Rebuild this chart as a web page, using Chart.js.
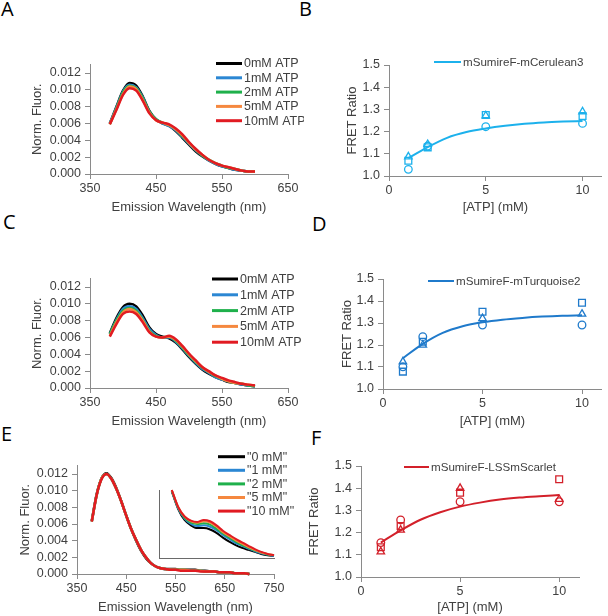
<!DOCTYPE html>
<html>
<head>
<meta charset="utf-8">
<script src="https://cdn.jsdelivr.net/npm/chart.js@4.4.1/dist/chart.umd.min.js"></script>
<style>
  body { margin: 0; background: #fff; width: 608px; height: 616px; position: relative; overflow: hidden; }
  canvas { position: absolute; }
  .tag { position: absolute; font-family: 'Open Sans', sans-serif; font-size: 20px; line-height: 1; color: #000; }
</style>
</head>
<body>
<div class="tag" style="left:1px;top:-1px">A</div>
<div class="tag" style="left:299px;top:-1px">B</div>
<div class="tag" style="left:3px;top:212px">C</div>
<div class="tag" style="left:312px;top:214px">D</div>
<div class="tag" style="left:1px;top:424px">E</div>
<div class="tag" style="left:311px;top:428px">F</div>
<script>
// wavelengths (nm)
const specX = [380,390,400,410,420,430,440,450,460,470,480,490,500,510,520,530,540,550,560,570,580,590,600];
const eX = [380,390,400,410,420,430,440,450,460,470,480,490,500,510,520,530,540,550,560,570,580,590,600,610,620,630,640,650,660,670,680,690,700];
const insetX = [540,550,560,570,580,590,600,610,620,630,640,650,660,670,680,690,700];

const atpLabels = ['0mM ATP', '1mM ATP', '2mM ATP', '5mM ATP', '10mM ATP'];
const mmLabels = ['"0 mM"', '"1 mM"', '"2 mM"', '"5 mM"', '"10 mM"'];
const specColors = ['#000000', '#2b87d3', '#1fb04b', '#f5883f', '#e11b22'];

// panel A - mSumireF-mCerulean3 spectra
const aBlack  = [0.0060,0.0080,0.0099,0.0108,0.0105,0.0092,0.0075,0.0065,0.0060,0.0057,0.0051,0.0043,0.0035,0.0027,0.0021,0.0016,0.0012,0.0009,0.0007,0.0005,0.0004,0.0003,0.0003];
const aBlue   = [0.0060,0.0079,0.0098,0.0106,0.0103,0.0091,0.0074,0.0065,0.0060,0.0057,0.0052,0.0044,0.0036,0.0028,0.0022,0.0016,0.0012,0.0009,0.0007,0.0005,0.0004,0.0003,0.0003];
const aGreen  = [0.0059,0.0078,0.0097,0.0105,0.0102,0.0090,0.0074,0.0065,0.0061,0.0058,0.0053,0.0045,0.0037,0.0029,0.0022,0.0017,0.0013,0.0010,0.0007,0.0006,0.0004,0.0003,0.0003];
const aOrange = [0.0059,0.0077,0.0095,0.0104,0.0101,0.0088,0.0073,0.0064,0.0061,0.0058,0.0053,0.0046,0.0037,0.0029,0.0023,0.0017,0.0013,0.0010,0.0008,0.0006,0.0004,0.0003,0.0003];
const aRed    = [0.0059,0.0076,0.0094,0.0102,0.0099,0.0087,0.0072,0.0064,0.0061,0.0059,0.0054,0.0047,0.0038,0.0030,0.0023,0.0017,0.0013,0.0010,0.0008,0.0006,0.0004,0.0003,0.0003];

// panel C - mSumireF-mTurquoise2 spectra
const cBlack  = [0.0065,0.0083,0.0096,0.0100,0.0097,0.0086,0.0072,0.0064,0.0061,0.0059,0.0054,0.0046,0.0037,0.0029,0.0022,0.0017,0.0013,0.0010,0.0007,0.0006,0.0004,0.0003,0.0002];
const cBlue   = [0.0064,0.0081,0.0094,0.0097,0.0094,0.0083,0.0070,0.0063,0.0060,0.0060,0.0055,0.0047,0.0038,0.0030,0.0023,0.0018,0.0013,0.0010,0.0008,0.0006,0.0004,0.0003,0.0002];
const cGreen  = [0.0064,0.0080,0.0092,0.0095,0.0092,0.0081,0.0068,0.0062,0.0060,0.0061,0.0056,0.0048,0.0039,0.0031,0.0024,0.0019,0.0014,0.0011,0.0008,0.0006,0.0005,0.0003,0.0002];
const cOrange = [0.0062,0.0078,0.0090,0.0094,0.0090,0.0080,0.0067,0.0061,0.0060,0.0061,0.0057,0.0049,0.0040,0.0032,0.0025,0.0019,0.0015,0.0011,0.0008,0.0006,0.0005,0.0004,0.0003];
const cRed    = [0.0061,0.0076,0.0088,0.0091,0.0088,0.0078,0.0066,0.0061,0.0060,0.0062,0.0058,0.0050,0.0041,0.0033,0.0025,0.0020,0.0015,0.0012,0.0009,0.0007,0.0005,0.0004,0.0003];

// panel E - mSumireF-LSSmScarlet spectra (curves nearly overlap)
const eBlack = [0.0064,0.0096,0.0115,0.0121,0.0115,0.0103,0.0087,0.0070,0.0054,0.0040,0.0028,0.0019,0.0013,0.0009,0.0007,0.0006,0.0006,0.0006,0.0005,0.0005,0.0005,0.0005,0.0004,0.0004,0.0003,0.0003,0.0002,0.0002,0.0002,0.0001,0.0001,0.0001,0.0000];
const eMid   = [0.0063,0.0095,0.0115,0.0120,0.0114,0.0102,0.0087,0.0070,0.0054,0.0041,0.0029,0.0020,0.0013,0.0009,0.0007,0.0006,0.0005,0.0005,0.0005,0.0005,0.0004,0.0004,0.0004,0.0003,0.0003,0.0003,0.0002,0.0002,0.0002,0.0001,0.0001,0.0001,0.0000];
const eRed   = [0.0063,0.0095,0.0114,0.0120,0.0114,0.0102,0.0087,0.0070,0.0054,0.0041,0.0029,0.0020,0.0013,0.0009,0.0007,0.0006,0.0005,0.0005,0.0004,0.0004,0.0004,0.0004,0.0003,0.0003,0.0003,0.0003,0.0002,0.0002,0.0002,0.0001,0.0001,0.0001,0.0000];

// panel E inset (relative scale, 540-700 nm)
const inBlack  = [0.98,0.72,0.56,0.48,0.44,0.44,0.42,0.37,0.30,0.24,0.19,0.15,0.12,0.09,0.06,0.04,0.03];
const inBlue   = [0.99,0.73,0.58,0.50,0.47,0.48,0.46,0.41,0.34,0.28,0.22,0.18,0.14,0.10,0.07,0.05,0.03];
const inGreen  = [0.99,0.74,0.59,0.52,0.50,0.51,0.49,0.43,0.36,0.30,0.24,0.19,0.15,0.11,0.08,0.05,0.04];
const inOrange = [1.00,0.75,0.61,0.54,0.52,0.54,0.52,0.46,0.38,0.32,0.26,0.21,0.16,0.12,0.08,0.06,0.04];
const inRed    = [1.00,0.75,0.61,0.55,0.53,0.56,0.54,0.48,0.40,0.34,0.28,0.23,0.18,0.13,0.09,0.06,0.04];

// FRET ratio vs ATP
const atpX = [1, 2, 5, 10];
const fitX = [1, 2, 3, 4, 5, 6, 7, 8, 9, 10];

const bCircle = [1.030, 1.135, 1.222, 1.237];
const bSquare = [1.069, 1.129, 1.275, 1.270];
const bTriangle = [1.087, 1.143, 1.272, 1.290];
const bFit = [1.080, 1.130, 1.172, 1.198, 1.214, 1.226, 1.235, 1.241, 1.245, 1.248];

const dCircle = [1.101, 1.238, 1.291, 1.291];
const dSquare = [1.079, 1.215, 1.351, 1.392];
const dTriangle = [1.124, 1.200, 1.321, 1.341];
const dFit = [1.140, 1.205, 1.255, 1.285, 1.303, 1.315, 1.323, 1.329, 1.333, 1.335];

const fCircle = [1.155, 1.257, 1.339, 1.339];
const fSquare = [1.134, 1.230, 1.380, 1.440];
const fTriangle = [1.114, 1.212, 1.400, 1.350];
const fFit = [1.155, 1.210, 1.258, 1.292, 1.317, 1.335, 1.349, 1.358, 1.364, 1.369];

const INK = '#404040';
const AXIS = '#8a8a8a';
const FONT = '"Liberation Sans", Arial, sans-serif';

Chart.defaults.font.family = FONT;
Chart.defaults.color = INK;

// legend drawn at a fixed spot, like the Excel originals
const pageKey = {
  id: 'pageKey',
  afterDraw(chart, args, o) {
    if (!o || o.x === undefined) return;
    const ctx = chart.ctx;
    ctx.save();
    ctx.font = o.size + 'px ' + FONT;
    ctx.textBaseline = 'middle';
    ctx.fillStyle = INK;
    let row = 0;
    chart.data.datasets.forEach(ds => {
      if (!ds.key) return;
      const y = o.y + row * o.gap;
      ctx.strokeStyle = ds.borderColor;
      ctx.lineWidth = o.lw;
      ctx.beginPath();
      ctx.moveTo(o.x, y);
      ctx.lineTo(o.x + o.len, y);
      ctx.stroke();
      ctx.fillText(ds.label, o.x + o.len + 2, y + 0.5);
      row++;
    });
    ctx.restore();
  }
};
Chart.register(pageKey);

function spectrum(label, xs, ys, color, order, lw) {
  return {
    type: 'line', label: label, key: true, order: order,
    data: xs.map((x, i) => ({ x: x, y: ys[i] })),
    borderColor: color, borderWidth: lw, pointRadius: 0,
    cubicInterpolationMode: 'monotone', fill: false, clip: false
  };
}

function marks(ys, shape, color, r) {
  return {
    type: 'scatter',
    data: atpX.map((x, i) => ({ x: x, y: ys[i] })),
    pointStyle: shape, pointRadius: r,
    pointBorderColor: color, pointBackgroundColor: 'rgba(0,0,0,0)',
    pointBorderWidth: 1.3, borderColor: color, showLine: false, order: 2
  };
}

function fitLine(label, ys, color) {
  return {
    type: 'line', label: label, key: true, order: 1,
    data: fitX.map((x, i) => ({ x: x, y: ys[i] })),
    borderColor: color, borderWidth: 2, pointRadius: 0,
    cubicInterpolationMode: 'monotone', fill: false
  };
}

function makePanel(p) {
  const cv = document.createElement('canvas');
  cv.width = p.box.w;
  cv.height = p.box.h;
  cv.style.left = p.box.left + 'px';
  cv.style.top = p.box.top + 'px';
  document.body.appendChild(cv);

  const yW = p.area.left - p.box.left;
  const xH = p.box.top + p.box.h - p.area.bottom;
  const lh = 13 * 1.2;
  const bare = !!p.bare;
  const key = p.legend
    ? { x: p.legend.x - p.box.left, y: p.legend.y - p.box.top, gap: p.legend.gap,
        len: p.legend.len, lw: p.legend.lw, size: p.legend.size }
    : false;

  return new Chart(cv, {
    type: 'scatter',
    data: { datasets: p.datasets },
    options: {
      responsive: false,
      animation: false,
      events: [],
      layout: { padding: { left: 0, bottom: 0, top: p.area.top - p.box.top, right: p.box.left + p.box.w - p.area.right } },
      plugins: { legend: { display: false }, tooltip: { enabled: false }, pageKey: key },
      scales: {
        x: {
          type: 'linear', min: p.x[0], max: p.x[1],
          afterFit: s => { s.height = xH; },
          ticks: { display: !bare, stepSize: p.x[2], includeBounds: false, maxRotation: 0, padding: 2,
                   font: { size: 12.5 }, color: INK, callback: v => String(v) },
          grid: { display: !bare, drawOnChartArea: false, tickLength: 5, color: AXIS },
          border: { color: bare ? '#6a6a6a' : AXIS, width: 1 },
          title: { display: !bare, text: p.xTitle, font: { size: 13 }, color: INK,
                   padding: { top: 0, bottom: p.box.top + p.box.h - p.xTitleY - lh / 2 } }
        },
        y: {
          type: 'linear', min: p.y[0], max: p.y[1],
          afterFit: s => { s.width = yW; },
          ticks: { display: !bare, stepSize: p.y[2], includeBounds: false, padding: 4,
                   font: { size: 12.5 }, color: INK, callback: v => v.toFixed(p.y[3]) },
          grid: { display: !bare, drawOnChartArea: false, tickLength: 5, color: AXIS },
          border: { color: bare ? '#6a6a6a' : AXIS, width: 1 },
          title: { display: !bare, text: p.yTitle, font: { size: 13 }, color: INK,
                   padding: { top: p.yTitleX - p.box.left - lh / 2, bottom: 0 } }
        }
      }
    }
  });
}

function spectraSets(labels, series, lw) {
  return series.map((ys, i) => spectrum(labels[i], ys.x, ys.y, specColors[i], 5 - i, lw));
}

// A
makePanel({
  box: { left: 0, top: 40, w: 304, h: 178 },
  area: { left: 90, top: 64.6, right: 288, bottom: 174 },
  x: [350, 650, 100], y: [0, 0.013, 0.002, 3],
  xTitle: 'Emission Wavelength (nm)', xTitleY: 207,
  yTitle: 'Norm. Fluor.', yTitleX: 37,
  legend: { x: 216, y: 63.5, gap: 14.3, len: 26, lw: 3, size: 12.5 },
  datasets: spectraSets(atpLabels, [
    { x: specX, y: aBlack }, { x: specX, y: aBlue }, { x: specX, y: aGreen },
    { x: specX, y: aOrange }, { x: specX, y: aRed }], 2.5)
});

// B
makePanel({
  box: { left: 304, top: 40, w: 304, h: 178 },
  area: { left: 389, top: 65, right: 607, bottom: 176 },
  x: [0, 11, 5], y: [1.0, 1.5, 0.1, 1],
  xTitle: '[ATP] (mM)', xTitleY: 207,
  yTitle: 'FRET Ratio', yTitleX: 352,
  legend: { x: 434, y: 62, gap: 14, len: 27, lw: 2, size: 11.6 },
  datasets: [
    fitLine('mSumireF-mCerulean3', bFit, '#1cb1ec'),
    marks(bCircle, 'circle', '#1cb1ec', 3.8),
    marks(bSquare, 'rect', '#1cb1ec', 4.8),
    marks(bTriangle, 'triangle', '#1cb1ec', 4.3)
  ]
});

// C
makePanel({
  box: { left: 0, top: 245, w: 304, h: 188 },
  area: { left: 90, top: 278.6, right: 288, bottom: 388 },
  x: [350, 650, 100], y: [0, 0.013, 0.002, 3],
  xTitle: 'Emission Wavelength (nm)', xTitleY: 421,
  yTitle: 'Norm. Fluor.', yTitleX: 37,
  legend: { x: 212, y: 279, gap: 15.8, len: 26, lw: 3, size: 12.5 },
  datasets: spectraSets(atpLabels, [
    { x: specX, y: cBlack }, { x: specX, y: cBlue }, { x: specX, y: cGreen },
    { x: specX, y: cOrange }, { x: specX, y: cRed }], 2.5)
});

// D
makePanel({
  box: { left: 304, top: 245, w: 304, h: 188 },
  area: { left: 383, top: 279, right: 603, bottom: 389 },
  x: [0, 11, 5], y: [1.0, 1.5, 0.1, 1],
  xTitle: '[ATP] (mM)', xTitleY: 421,
  yTitle: 'FRET Ratio', yTitleX: 347,
  legend: { x: 428, y: 281, gap: 14, len: 26, lw: 2, size: 11.6 },
  datasets: [
    fitLine('mSumireF-mTurquoise2', dFit, '#1f7acb'),
    marks(dCircle, 'circle', '#1f7acb', 3.8),
    marks(dSquare, 'rect', '#1f7acb', 4.8),
    marks(dTriangle, 'triangle', '#1f7acb', 4.3)
  ]
});

// E
makePanel({
  box: { left: 0, top: 445, w: 304, h: 171 },
  area: { left: 77, top: 465.7, right: 274, bottom: 574 },
  x: [350, 750, 100], y: [0, 0.013, 0.002, 3],
  xTitle: 'Emission Wavelength (nm)', xTitleY: 607,
  yTitle: 'Norm. Fluor.', yTitleX: 25,
  legend: { x: 218, y: 456.7, gap: 13.6, len: 27, lw: 3, size: 12.5 },
  datasets: spectraSets(mmLabels, [
    { x: eX, y: eBlack }, { x: eX, y: eMid }, { x: eX, y: eMid },
    { x: eX, y: eMid }, { x: eX, y: eRed }], 2.5)
});

// E inset
makePanel({
  bare: true,
  box: { left: 150, top: 478, w: 140, h: 90 },
  area: { left: 159, top: 490, right: 274, bottom: 558 },
  x: [520, 700, 20], y: [0, 1, 0.2, 1],
  datasets: [
    { x: insetX, y: inBlack }, { x: insetX, y: inBlue }, { x: insetX, y: inGreen },
    { x: insetX, y: inOrange }, { x: insetX, y: inRed }
  ].map((s, i) => Object.assign(spectrum(mmLabels[i], s.x, s.y, specColors[i], 5 - i, 2), { key: false }))
});

// F
makePanel({
  box: { left: 304, top: 445, w: 304, h: 171 },
  area: { left: 361, top: 466, right: 579, bottom: 577 },
  x: [0, 11, 5], y: [1.0, 1.5, 0.1, 1],
  xTitle: '[ATP] (mM)', xTitleY: 607,
  yTitle: 'FRET Ratio', yTitleX: 314,
  legend: { x: 404, y: 467, gap: 14, len: 25, lw: 2, size: 11.6 },
  datasets: [
    fitLine('mSumireF-LSSmScarlet', fFit, '#d3202a'),
    marks(fCircle, 'circle', '#d3202a', 3.8),
    marks(fSquare, 'rect', '#d3202a', 4.8),
    marks(fTriangle, 'triangle', '#d3202a', 4.3)
  ]
});
</script>
</body>
</html>
